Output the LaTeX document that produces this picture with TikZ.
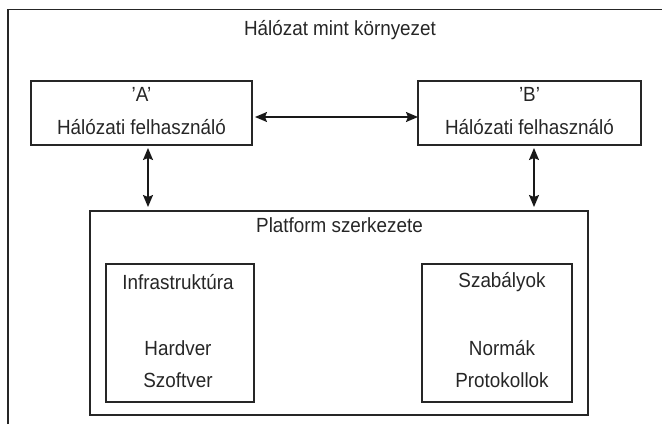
\documentclass[tikz,border=0pt]{standalone}
\usepackage{fontspec}
\setmainfont{Liberation Sans}[FakeStretch=0.92]
\usetikzlibrary{arrows.meta}
\begin{document}
\begin{tikzpicture}[x=1pt,y=-1pt,
  every node/.style={inner sep=0pt, outer sep=0pt},
  txt/.style={font=\fontsize{20.5}{22}\selectfont, text=black!85},
  boxs/.style={draw=black!85, line width=1.2pt, rectangle, anchor=north west},
  dbl/.style={{Stealth[length=12pt,width=10pt,inset=2pt]}-{Stealth[length=12pt,width=10pt,inset=2pt]}, line width=1.5pt, draw=black!90}
]
\useasboundingbox (0,0) rectangle (662,424);
% outer environment frame (extends past the picture's right and bottom)
\draw[line width=1.5pt, draw=black!85] (8,424) |- (662,9.5);
\node[txt] (title) at (340,30) {Hálózat mint környezet};

% user boxes
\node[boxs, minimum width=221pt, minimum height=64pt] (A) at (31,81) {};
\node[boxs, minimum width=223pt, minimum height=64pt] (B) at (418,81) {};
\node[txt] (Alab) at (141.5,94) {'A'};
\node[txt] (Atxt) at (141.5,127) {Hálózati felhasználó};
\node[txt] (Blab) at (529.5,94) {'B'};
\node[txt] (Btxt) at (529.5,127) {Hálózati felhasználó};

% platform
\node[boxs, minimum width=498pt, minimum height=204pt] (P) at (90,211) {};
\node[txt] (Ptxt) at (339.5,225) {Platform szerkezete};
\node[boxs, minimum width=148pt, minimum height=138pt] (I) at (106,264) {};
\node[boxs, minimum width=150pt, minimum height=138pt] (R) at (422,264) {};
\node[txt] (I1) at (178,282) {Infrastruktúra};
\node[txt] (I2) at (178,348) {Hardver};
\node[txt] (I3) at (178,380) {Szoftver};
\node[txt] (R1) at (502,282) {Szabályok};
\node[txt] (R2) at (502,348) {Normák};
\node[txt] (R3) at (502,380) {Protokollok};

% connectors
\draw[dbl, shorten <=3pt] ([yshift=-4pt]A.east) -- ([yshift=-4pt]B.west);
\draw[dbl, shorten <=3pt, shorten >=4pt] (A.south -| 148,0) -- (P.north -| 148,0);
\draw[dbl, shorten <=3pt, shorten >=4pt] (B.south -| 534,0) -- (P.north -| 534,0);
\end{tikzpicture}
\end{document}
